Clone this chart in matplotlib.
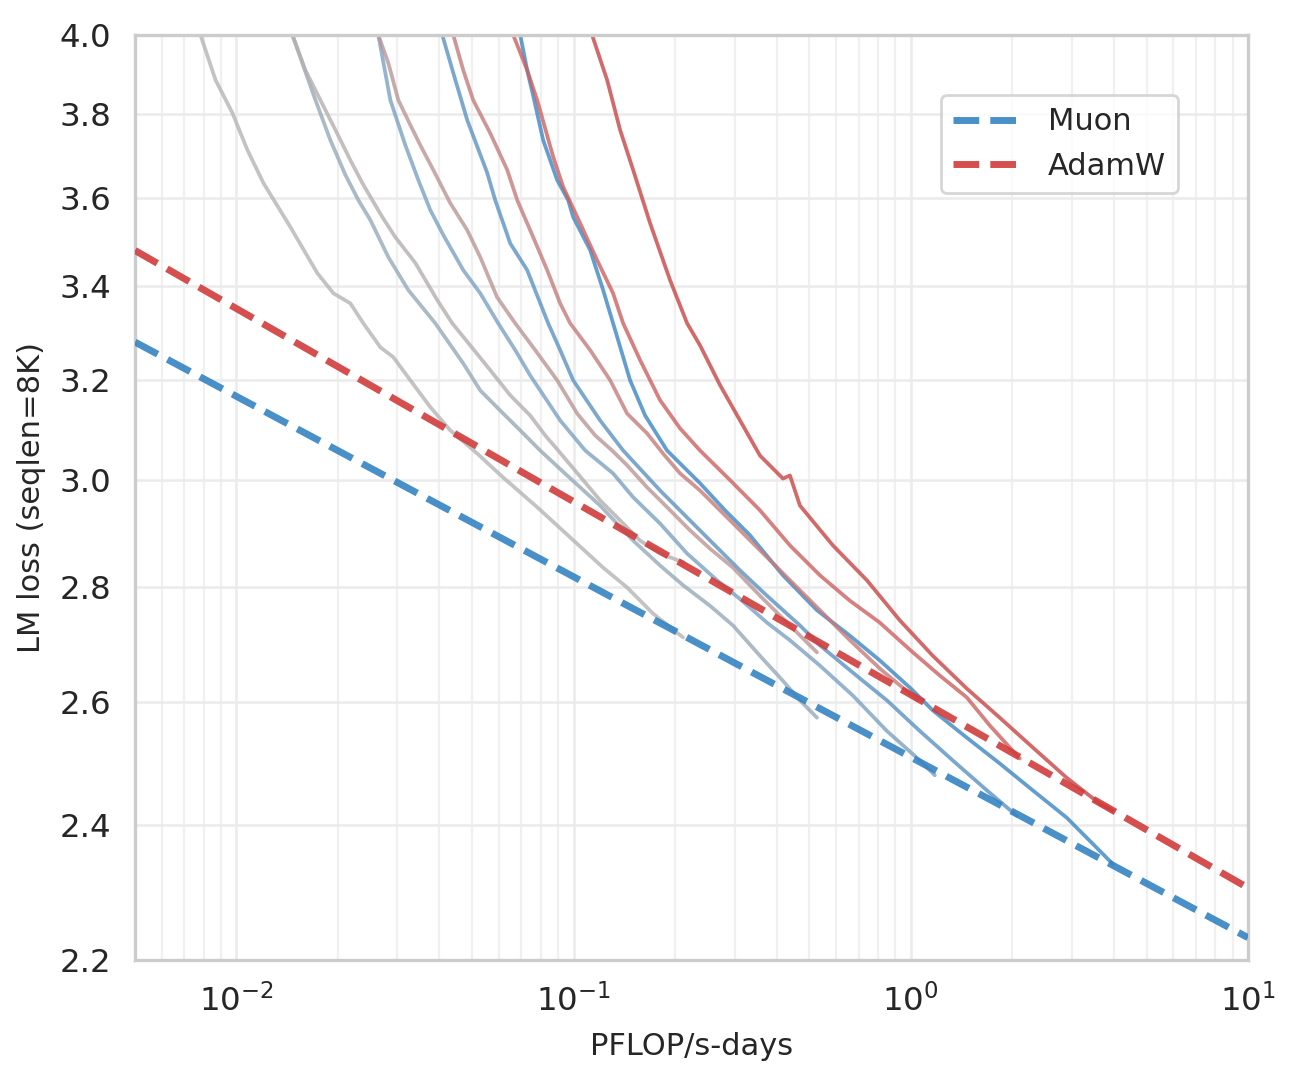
import matplotlib
matplotlib.use("Agg")
import matplotlib.pyplot as plt
import matplotlib.ticker as mticker
import seaborn as sns

sns.set_theme(style="whitegrid")
plt.rcParams['font.family'] = ['DejaVu Sans']

# ---------------- data ----------------
# Muon runs (small -> large model)
m1_x = [0.00772, 0.00782, 0.00867, 0.00973, 0.01078, 0.01202, 0.01445, 0.01738, 0.01939, 0.02177, 0.02378,
        0.02671, 0.02919, 0.03278, 0.03757, 0.04306, 0.05176, 0.0618, 0.07796, 0.09763, 0.1223, 0.144, 0.172, 0.2111]
m1_y = [4.013, 4.0, 3.885, 3.803, 3.713, 3.635, 3.533, 3.429, 3.385, 3.363, 3.32,
        3.269, 3.248, 3.2, 3.145, 3.098, 3.052, 3.005, 2.948, 2.891, 2.835, 2.799, 2.752, 2.71]

m2_x = [0.01445, 0.01465, 0.01715, 0.01899, 0.02104, 0.02299, 0.02495, 0.02821, 0.03233, 0.03887, 0.04705,
        0.05284, 0.06055, 0.06943, 0.07956, 0.09565, 0.1198, 0.1501, 0.1804, 0.2111, 0.2537, 0.2969,
        0.3569, 0.4175, 0.469, 0.5267]
m2_y = [4.013, 4.0, 3.835, 3.737, 3.654, 3.595, 3.549, 3.465, 3.392, 3.32, 3.235,
        3.179, 3.138, 3.098, 3.058, 3.009, 2.951, 2.885, 2.839, 2.803, 2.766, 2.731,
        2.678, 2.635, 2.602, 2.573]

m3_x = [0.02599, 0.02634, 0.0286, 0.03168, 0.03462, 0.03757, 0.04105, 0.04705, 0.05284, 0.05973, 0.0671,
        0.07431, 0.0912, 0.1082, 0.1309, 0.1501, 0.1804, 0.217, 0.2662, 0.3158, 0.3744, 0.438,
        0.5376, 0.6732, 0.849, 1.063, 1.178]
m3_y = [4.013, 4.0, 3.835, 3.725, 3.642, 3.572, 3.515, 3.436, 3.385, 3.32, 3.263,
        3.21, 3.118, 3.058, 3.013, 2.967, 2.917, 2.861, 2.812, 2.775, 2.736, 2.705,
        2.661, 2.61, 2.551, 2.503, 2.479]

m4_x = [0.04022, 0.04077, 0.04395, 0.04834, 0.05541, 0.05852, 0.06485, 0.07281, 0.08402, 0.0912,
        0.09966, 0.1198, 0.1402, 0.1804, 0.237, 0.3114, 0.3744, 0.469, 0.5376, 0.6732, 0.849,
        1.063, 1.331, 1.68, 2.061]
m4_y = [4.013, 4.0, 3.903, 3.786, 3.659, 3.595, 3.496, 3.436, 3.32, 3.263,
        3.2, 3.118, 3.058, 2.98, 2.904, 2.83, 2.784, 2.731, 2.696, 2.649, 2.602,
        2.551, 2.503, 2.455, 2.415]

m5_x = [0.06849, 0.06943, 0.07281, 0.07638, 0.08121, 0.08935, 0.09631, 0.09966, 0.1119, 0.1223, 0.1309,
        0.147, 0.1629, 0.1892, 0.237, 0.2811, 0.3334, 0.4175, 0.5267, 0.6597, 0.8092, 1.0,
        1.162, 1.465, 1.835, 2.299, 2.899, 3.631, 3.968]
m5_y = [4.013, 4.0, 3.91, 3.835, 3.737, 3.642, 3.595, 3.556, 3.481, 3.392, 3.32,
        3.2, 3.128, 3.058, 2.994, 2.942, 2.895, 2.821, 2.758, 2.713, 2.67, 2.622,
        2.585, 2.54, 2.498, 2.455, 2.412, 2.361, 2.341]

# AdamW runs (small -> large model)
a1_x = [0.01445, 0.01465, 0.01601, 0.01774, 0.01965, 0.02177, 0.02362, 0.02529, 0.02707, 0.02959, 0.03392,
        0.03941, 0.04365, 0.04934, 0.05656, 0.06485, 0.07431, 0.08233, 0.08996, 0.1067, 0.1198, 0.1373,
        0.1574, 0.1804, 0.2111]
a1_y = [4.013, 4.0, 3.91, 3.835, 3.762, 3.689, 3.635, 3.595, 3.556, 3.51, 3.452,
        3.37, 3.32, 3.273, 3.221, 3.169, 3.128, 3.088, 3.058, 3.0, 2.961, 2.923,
        2.885, 2.861, 2.845]

a2_x = [0.02599, 0.02634, 0.02821, 0.0302, 0.03278, 0.03509, 0.03834, 0.04306, 0.04834, 0.05284, 0.05932,
        0.0671, 0.0769, 0.08935, 0.1024, 0.1158, 0.13, 0.144, 0.1651, 0.1892, 0.2215, 0.2537,
        0.2969, 0.3569, 0.438, 0.5267]
a2_y = [4.013, 4.0, 3.928, 3.835, 3.774, 3.725, 3.666, 3.588, 3.526, 3.465, 3.376,
        3.32, 3.263, 3.2, 3.132, 3.088, 3.058, 3.029, 2.986, 2.948, 2.904, 2.87,
        2.835, 2.784, 2.731, 2.684]

a3_x = [0.04335, 0.04395, 0.04705, 0.05036, 0.05656, 0.06353, 0.06802, 0.07586, 0.08346, 0.0912, 0.09763,
        0.1119, 0.1283, 0.144, 0.1651, 0.1841, 0.2068, 0.237, 0.2909, 0.3569, 0.438, 0.5376,
        0.6597, 0.8092, 1.049]
a3_y = [4.013, 4.0, 3.91, 3.835, 3.754, 3.666, 3.595, 3.51, 3.436, 3.363, 3.32,
        3.263, 3.2, 3.132, 3.092, 3.052, 3.013, 2.98, 2.923, 2.867, 2.812, 2.758,
        2.705, 2.656, 2.602]

a4_x = [0.06528, 0.06618, 0.07281, 0.07796, 0.08695, 0.09309, 0.1045, 0.1174, 0.1309, 0.1402, 0.1574,
        0.1804, 0.2068, 0.237, 0.2909, 0.3569, 0.438, 0.5376, 0.6597, 0.8092, 1.0, 1.219,
        1.465, 1.715, 2.104]
a4_y = [4.013, 4.0, 3.91, 3.835, 3.697, 3.626, 3.542, 3.458, 3.385, 3.32, 3.242,
        3.159, 3.102, 3.058, 3.0, 2.942, 2.876, 2.821, 2.775, 2.736, 2.687, 2.644,
        2.607, 2.56, 2.506]

a5_x = [0.1119, 0.1134, 0.1257, 0.1373, 0.1501, 0.1685, 0.1931, 0.217, 0.237, 0.2717, 0.3114,
        0.3569, 0.4175, 0.438, 0.469, 0.5873, 0.7407, 0.9277, 1.162, 1.465, 1.835, 2.299,
        2.899, 3.631, 3.968]
a5_y = [4.013, 4.0, 3.885, 3.762, 3.666, 3.542, 3.414, 3.32, 3.273, 3.19, 3.118,
        3.048, 3.003, 3.009, 2.951, 2.876, 2.812, 2.74, 2.678, 2.622, 2.573, 2.524,
        2.475, 2.434, 2.423]

# power-law fits (straight lines in log-log), end points
fit_x = [0.005, 10.0]
muon_fit_y = [3.28, 2.232]
adamw_fit_y = [3.48, 2.305]

muon_runs = [(m1_x, m1_y), (m2_x, m2_y), (m3_x, m3_y), (m4_x, m4_y), (m5_x, m5_y)]
adamw_runs = [(a1_x, a1_y), (a2_x, a2_y), (a3_x, a3_y), (a4_x, a4_y), (a5_x, a5_y)]
muon_colors = ['#b5b5b5', '#95a9b8', '#7ca1c2', '#5c92c2', '#3d86c2']
adamw_colors = ['#b5b0b0', '#ba9595', '#c47c7c', '#cc6060', '#c94545']

# ---------------- plot ----------------
fig = plt.figure(figsize=(1298 / 200, 1079 / 200), dpi=200)
ax = fig.add_axes([135 / 1298, 1 - 960 / 1079, (1248 - 135) / 1298, (960 - 35) / 1079])

for (x, y), c in zip(muon_runs, muon_colors):
    ax.plot(x, y, color=c, lw=1.35, alpha=0.8, zorder=2, solid_joinstyle='round')
for (x, y), c in zip(adamw_runs, adamw_colors):
    ax.plot(x, y, color=c, lw=1.35, alpha=0.8, zorder=2, solid_joinstyle='round')

ax.plot(fit_x, muon_fit_y, ls='--', lw=2.5, color='#3684c2', alpha=0.9, label='Muon', zorder=3)
ax.plot(fit_x, adamw_fit_y, ls='--', lw=2.5, color='#d13c3c', alpha=0.9, label='AdamW', zorder=3)

ax.set_xscale('log')
ax.set_yscale('log')
ax.set_xlim(0.005, 10)
ax.set_ylim(2.2, 4.0)

yticks = [2.2, 2.4, 2.6, 2.8, 3.0, 3.2, 3.4, 3.6, 3.8, 4.0]
ax.yaxis.set_major_locator(mticker.FixedLocator(yticks))
ax.yaxis.set_major_formatter(mticker.FormatStrFormatter('%.1f'))
ax.yaxis.set_minor_locator(mticker.NullLocator())
ax.xaxis.set_minor_locator(mticker.LogLocator(base=10, subs=range(2, 10)))

ax.grid(True, which='major', color='#ebebeb', lw=0.9)
ax.grid(True, which='minor', axis='x', color='#f0f0f0', lw=0.8)
ax.set_axisbelow(True)
for s in ax.spines.values():
    s.set_color('#cccccc')
    s.set_linewidth(1.2)

ax.tick_params(axis='both', which='major', labelsize=11.7, colors='#262626', length=0, pad=8.5)
ax.tick_params(axis='both', which='minor', length=0)
ax.set_xlabel('PFLOP/s-days', fontsize=11, color='#262626', labelpad=5)
ax.set_ylabel('LM loss (seqlen=8K)', fontsize=11, color='#262626', labelpad=5)

leg = ax.legend(loc='upper right', bbox_to_anchor=(0.937, 0.935), borderaxespad=0,
                fontsize=11, frameon=True, handlelength=2.3)
leg.get_frame().set_edgecolor('#cccccc')
leg.get_frame().set_linewidth(1.0)

fig.savefig('out.png', dpi=200)
